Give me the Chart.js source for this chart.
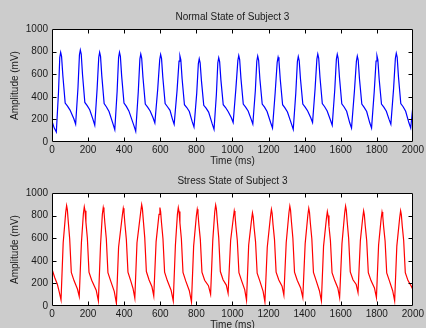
<!DOCTYPE html>
<html>
<head>
<meta charset="utf-8">
<script src="https://cdn.jsdelivr.net/npm/chart.js@4.4.1/dist/chart.umd.min.js"></script>
<style>
  html, body { margin: 0; padding: 0; background: #cccccc; }
  #wrap { position: relative; width: 426px; height: 328px; overflow: hidden; }
  .panel { position: absolute; left: 0; width: 426px; height: 170px; }
</style>
</head>
<body>
<div id="wrap">
  <div class="panel" style="top:0"><canvas id="normalChart" width="426" height="170"></canvas></div>
  <div class="panel" style="top:164px"><canvas id="stressChart" width="426" height="170"></canvas></div>
</div>
<script>
const xTicks = [0, 200, 400, 600, 800, 1000, 1200, 1400, 1600, 1800, 2000];
const yTicks = [0, 200, 400, 600, 800, 1000];

const normalTitle = "Normal State of Subject 3";
const stressTitle = "Stress State of Subject 3";
const xLabel = "Time (ms)";
const yLabel = "Amplitude (mV)";

// sample times (ms) and amplitudes (mV)
const normalTime = [
  0, 12, 24, 36, 43,
  48, 53, 60, 73, 86, 100, 121, 131, 144, 152,
  157, 162, 169, 182, 195, 209, 227, 237, 250, 259,
  264, 269, 276, 289, 302, 316, 338, 348, 361, 369,
  374, 379, 386, 399, 412, 426, 454, 464, 478, 487,
  492, 497, 504, 517, 530, 544, 560, 570, 586, 597,
  602, 607, 614, 627, 640, 654, 667, 677, 693, 704,
  709, 714, 721, 734, 747, 761, 777, 787, 802, 811,
  816, 821, 828, 841, 854, 868, 888, 898, 911, 919,
  924, 929, 936, 949, 962, 976, 994, 1004, 1019, 1030,
  1035, 1040, 1047, 1060, 1073, 1087, 1103, 1113, 1127, 1135,
  1140, 1145, 1152, 1165, 1178, 1192, 1212, 1222, 1237, 1248,
  1253, 1258, 1265, 1278, 1291, 1305, 1327, 1337, 1351, 1360,
  1365, 1370, 1377, 1390, 1403, 1417, 1434, 1444, 1458, 1468,
  1473, 1478, 1485, 1498, 1511, 1525, 1543, 1553, 1567, 1576,
  1581, 1586, 1593, 1606, 1619, 1633, 1650, 1660, 1676, 1687,
  1692, 1697, 1704, 1717, 1730, 1744, 1761, 1771, 1786, 1796,
  1801, 1806, 1813, 1826, 1839, 1853, 1868, 1878, 1893, 1903,
  1908, 1913, 1920, 1933, 1946, 1960, 1978, 1988, 2000,
];
const normalAmp = [
  185, 125, 89, 440, 748,
  793, 758, 590, 345, 318, 282, 205, 157, 480, 769,
  814, 779, 600, 350, 322, 285, 200, 148, 470, 748,
  793, 758, 585, 340, 310, 270, 160, 109, 450, 748,
  793, 758, 585, 345, 315, 275, 145, 95, 440, 733,
  778, 743, 575, 335, 308, 275, 215, 169, 470, 730,
  775, 740, 575, 340, 312, 280, 205, 157, 455, 716,
  761, 726, 560, 330, 305, 270, 180, 133, 430, 691,
  736, 701, 545, 325, 300, 265, 160, 112, 420, 701,
  746, 711, 550, 330, 305, 270, 215, 172, 470, 720,
  765, 730, 565, 335, 308, 275, 205, 159, 455, 715,
  760, 725, 560, 335, 308, 270, 170, 124, 440, 705,
  750, 715, 555, 330, 302, 265, 160, 112, 430, 711,
  756, 721, 560, 335, 308, 275, 215, 172, 470, 733,
  778, 743, 575, 340, 312, 275, 195, 148, 460, 731,
  776, 741, 575, 338, 310, 272, 170, 124, 450, 715,
  760, 725, 560, 335, 306, 270, 170, 124, 450, 717,
  762, 727, 560, 335, 308, 272, 200, 157, 470, 741,
  786, 751, 580, 340, 312, 272, 170, 124, 316,
];

// sample times (ms) and amplitudes (mV)
const stressTime = [
  0, 2, 15, 30, 40, 50, 62, 76,
  81, 85, 90, 98, 107, 122, 141, 151, 163, 174,
  179, 183, 188, 196, 205, 220, 245, 257, 269, 279,
  284, 288, 293, 301, 310, 325, 345, 357, 369, 390,
  395, 399, 404, 412, 421, 436, 449, 459, 471, 492,
  497, 501, 506, 514, 523, 538, 554, 564, 577, 593,
  598, 602, 607, 615, 624, 639, 660, 672, 684, 695,
  700, 704, 709, 717, 726, 741, 761, 773, 785, 800,
  805, 809, 814, 822, 831, 846, 867, 879, 891, 902,
  907, 911, 916, 924, 933, 948, 966, 976, 990, 1005,
  1010, 1014, 1019, 1027, 1036, 1051, 1068, 1078, 1090, 1106,
  1111, 1115, 1120, 1128, 1137, 1152, 1170, 1180, 1193, 1211,
  1216, 1220, 1225, 1233, 1242, 1257, 1275, 1285, 1298, 1313,
  1318, 1322, 1327, 1335, 1344, 1359, 1378, 1390, 1403, 1418,
  1423, 1427, 1432, 1440, 1449, 1464, 1482, 1493, 1505, 1521,
  1526, 1530, 1535, 1543, 1552, 1567, 1584, 1594, 1607, 1622,
  1627, 1631, 1636, 1644, 1653, 1668, 1686, 1696, 1709, 1722,
  1727, 1731, 1736, 1744, 1753, 1768, 1787, 1798, 1810, 1824,
  1829, 1833, 1838, 1846, 1855, 1870, 1888, 1899, 1911, 1927,
  1932, 1936, 1941, 1949, 1958, 1973, 1988, 2000,
];
const stressAmp = [
  400, 318, 252, 190, 125, 54, 560, 828,
  888, 853, 750, 595, 298, 225, 150, 84, 560, 818,
  878, 843, 740, 600, 300, 228, 140, 45, 540, 811,
  871, 836, 735, 595, 295, 222, 130, 24, 520, 805,
  865, 830, 730, 590, 300, 225, 155, 69, 560, 837,
  897, 862, 760, 605, 305, 230, 170, 89, 570, 811,
  871, 836, 735, 595, 300, 225, 140, 45, 540, 811,
  871, 836, 735, 595, 298, 222, 135, 36, 530, 796,
  856, 821, 720, 590, 300, 228, 180, 104, 580, 834,
  894, 859, 755, 605, 305, 232, 185, 113, 580, 781,
  841, 806, 710, 580, 295, 222, 145, 51, 540, 764,
  824, 789, 695, 570, 290, 220, 130, 36, 520, 796,
  856, 821, 720, 590, 300, 230, 175, 96, 560, 823,
  883, 848, 745, 600, 300, 228, 160, 75, 550, 805,
  865, 830, 730, 595, 298, 225, 135, 45, 530, 776,
  836, 801, 705, 580, 295, 225, 160, 75, 550, 823,
  883, 848, 745, 600, 302, 232, 190, 119, 580, 781,
  841, 806, 710, 580, 295, 225, 160, 75, 540, 771,
  831, 796, 700, 575, 292, 222, 135, 45, 530, 783,
  843, 808, 710, 580, 295, 225, 185, 145,
];

const $ = (id) => document.getElementById(id);
const FONT = "'Liberation Sans', Arial, sans-serif";
const TEXT = "#1a1a1a";

// white plot background, black box and inward tick marks like the original figure
const boxPlugin = {
  id: "box",
  beforeDraw(chart) {
    const { ctx, chartArea: a } = chart;
    ctx.save();
    ctx.fillStyle = "#ffffff";
    ctx.fillRect(a.left, a.top, a.right - a.left, a.bottom - a.top);
    ctx.restore();
  },
  afterDraw(chart) {
    const { ctx, chartArea: a, scales } = chart;
    const L = Math.round(a.left) + 0.5;
    const R = Math.round(a.right) - 0.5;
    const T = Math.round(a.top) + 0.5;
    const B = Math.round(a.bottom) - 0.5;
    const len = 4;
    ctx.save();
    ctx.strokeStyle = "#000000";
    ctx.lineWidth = 1;
    ctx.beginPath();
    ctx.rect(L, T, R - L, B - T);
    scales.x.ticks.forEach((t) => {
      const px = Math.round(scales.x.getPixelForValue(t.value)) + 0.5;
      if (px <= L + 1 || px >= R - 1) return;
      ctx.moveTo(px, B);
      ctx.lineTo(px, B - len);
      ctx.moveTo(px, T);
      ctx.lineTo(px, T + len);
    });
    scales.y.ticks.forEach((t) => {
      const py = Math.round(scales.y.getPixelForValue(t.value)) + 0.5;
      if (py <= T + 1 || py >= B - 1) return;
      ctx.moveTo(L, py);
      ctx.lineTo(L + len, py);
      ctx.moveTo(R, py);
      ctx.lineTo(R - len, py);
    });
    ctx.stroke();
    ctx.restore();
  },
};

function makeChart(id, title, times, amps, color) {
  const points = times.map((t, i) => ({ x: t, y: amps[i] }));

  return new Chart($(id), {
    type: "line",
    data: {
      datasets: [
        {
          data: points,
          borderColor: color,
          borderWidth: 1.2,
          pointRadius: 0,
          tension: 0,
          fill: false,
        },
      ],
    },
    options: {
      responsive: false,
      animation: false,
      devicePixelRatio: 1,
      layout: { padding: { left: 0, right: 13, top: 0, bottom: 0 } },
      plugins: {
        legend: { display: false },
        tooltip: { enabled: false },
        title: {
          display: true,
          text: title,
          fullSize: false,
          color: TEXT,
          font: { family: FONT, size: 10, weight: "normal" },
          padding: { top: 11, bottom: 6 },
        },
      },
      scales: {
        x: {
          type: "linear",
          min: xTicks[0],
          max: xTicks[xTicks.length - 1],
          afterBuildTicks: (s) => {
            s.ticks = xTicks.map((v) => ({ value: v }));
          },
          ticks: {
            color: TEXT,
            font: { family: FONT, size: 10 },
            padding: 2,
            maxRotation: 0,
            autoSkip: false,
            callback: (v) => String(v),
          },
          grid: { display: false, drawTicks: false },
          border: { display: false },
          title: {
            display: true,
            text: xLabel,
            color: TEXT,
            font: { family: FONT, size: 10 },
            padding: { top: 0, bottom: 3 },
          },
          afterFit: (s) => {
            s.height = 28;
          },
        },
        y: {
          type: "linear",
          min: yTicks[0],
          max: yTicks[yTicks.length - 1],
          afterBuildTicks: (s) => {
            s.ticks = yTicks.map((v) => ({ value: v }));
          },
          ticks: {
            color: TEXT,
            font: { family: FONT, size: 10 },
            padding: 4,
            callback: (v) => String(v),
          },
          grid: { display: false, drawTicks: false },
          border: { display: false },
          title: {
            display: true,
            text: yLabel,
            color: TEXT,
            font: { family: FONT, size: 10 },
            padding: { top: 9, bottom: 0 },
          },
          afterFit: (s) => {
            s.width = 52;
          },
        },
      },
    },
    plugins: [boxPlugin],
  });
}

makeChart("normalChart", normalTitle, normalTime, normalAmp, "#0000ff");
makeChart("stressChart", stressTitle, stressTime, stressAmp, "#ff0000");
</script>
</body>
</html>
